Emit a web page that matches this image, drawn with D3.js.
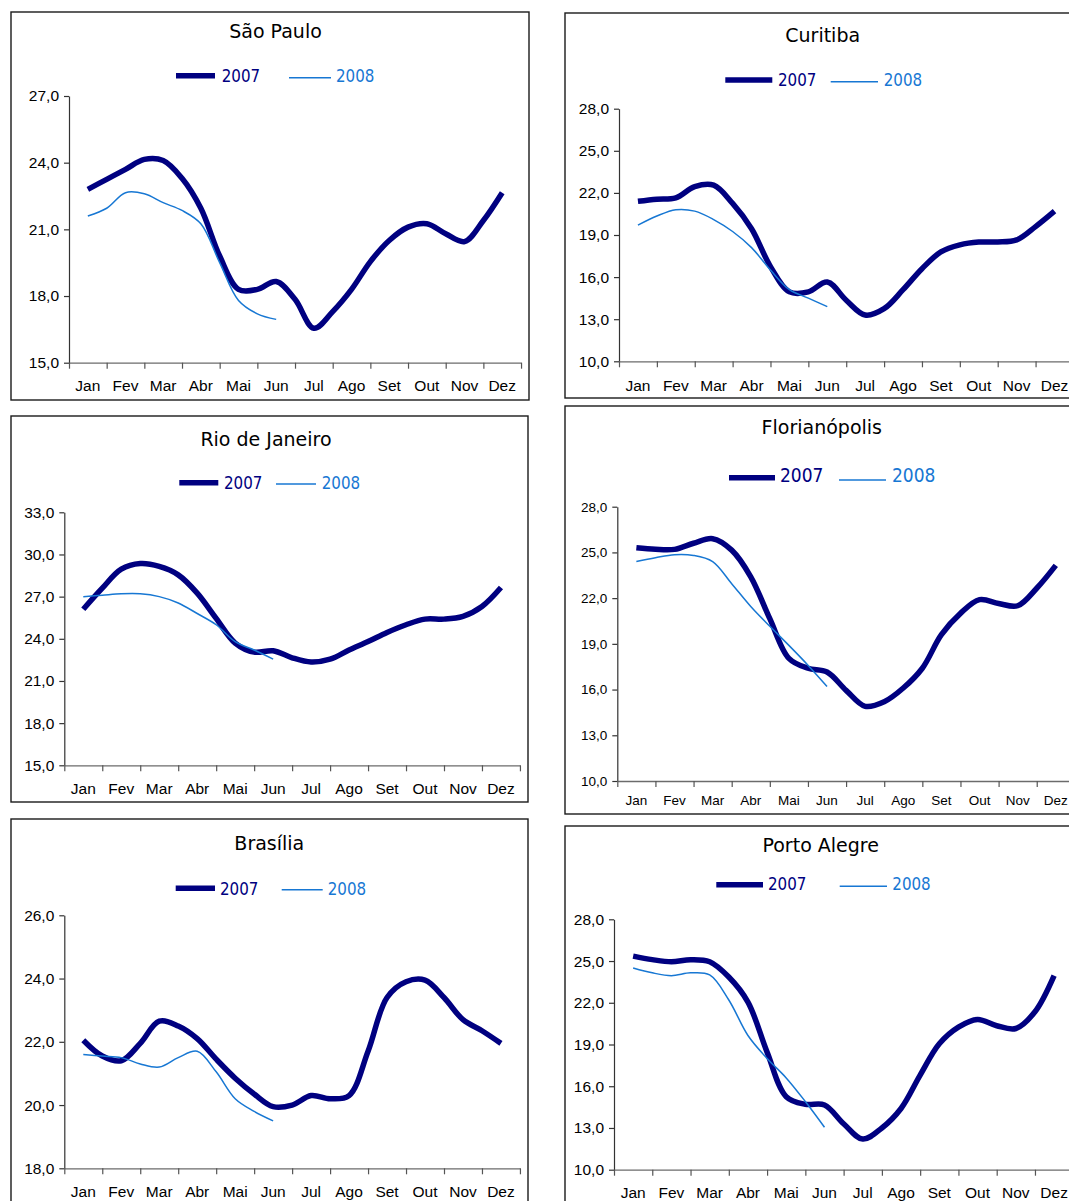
<!DOCTYPE html>
<html>
<head>
<meta charset="utf-8">
<script src="https://cdn.jsdelivr.net/npm/d3@7"></script>
<style>
  body { margin: 0; background: #fff; }
  svg { display: block; }
</style>
</head>
<body>
<svg id="chart" width="1069" height="1201"></svg>
<script>
// Month labels and the half-month sampling positions (0 = Jan, 11 = Dez)
const months = ["Jan", "Fev", "Mar", "Abr", "Mai", "Jun", "Jul", "Ago", "Set", "Out", "Nov", "Dez"];
const halfMonths = [0, 0.5, 1, 1.5, 2, 2.5, 3, 3.5, 4, 4.5, 5, 5.5, 6, 6.5, 7, 7.5, 8, 8.5, 9, 9.5, 10, 10.5, 11];
const seriesNames = ["2007", "2008"];

// São Paulo
const saoPaulo2007 = [22.8, 23.25, 23.7, 24.15, 24.1, 23.3, 21.95, 19.8, 18.3, 18.3, 18.65, 17.85, 16.55, 17.3, 18.3, 19.55, 20.5, 21.1, 21.25, 20.8, 20.45, 21.4, 22.65];
const saoPaulo2008 = [21.6, 21.95, 22.65, 22.6, 22.2, 21.85, 21.25, 19.5, 17.8, 17.2, 16.95];
const saoPauloTicks = [15, 18, 21, 24, 27];

// Curitiba
const curitiba2007 = [21.4, 21.55, 21.65, 22.45, 22.55, 21.25, 19.45, 16.75, 14.95, 14.95, 15.65, 14.35, 13.3, 13.75, 15.1, 16.6, 17.8, 18.3, 18.5, 18.5, 18.65, 19.6, 20.7];
const curitiba2008 = [19.7, 20.35, 20.8, 20.7, 20.1, 19.25, 18.1, 16.5, 15.1, 14.5, 13.9];
const curitibaTicks = [10, 13, 16, 19, 22, 25, 28];

// Rio de Janeiro
const rio2007 = [26.1, 27.6, 28.95, 29.35, 29.15, 28.55, 27.25, 25.45, 23.7, 23.05, 23.15, 22.65, 22.35, 22.55, 23.2, 23.8, 24.45, 25.0, 25.4, 25.4, 25.6, 26.3, 27.65];
const rio2008 = [27.0, 27.1, 27.2, 27.2, 27.0, 26.55, 25.8, 25.0, 23.8, 23.2, 22.55];
const rioTicks = [15, 18, 21, 24, 27, 30, 33];

// Florianópolis
const floripa2007 = [25.3, 25.2, 25.2, 25.6, 25.9, 25.15, 23.4, 20.65, 18.05, 17.4, 17.15, 15.95, 14.9, 15.2, 16.1, 17.4, 19.6, 21.0, 21.9, 21.65, 21.5, 22.65, 24.15];
const floripa2008 = [24.4, 24.65, 24.85, 24.8, 24.4, 22.95, 21.45, 20.15, 18.9, 17.6, 16.2];
const floripaTicks = [10, 13, 16, 19, 22, 25, 28];

// Brasília
const brasilia2007 = [22.05, 21.55, 21.4, 21.95, 22.65, 22.5, 22.1, 21.45, 20.85, 20.35, 19.95, 20.0, 20.3, 20.2, 20.3, 21.7, 23.4, 23.9, 23.95, 23.4, 22.7, 22.35, 21.95];
const brasilia2008 = [21.6, 21.55, 21.5, 21.3, 21.2, 21.5, 21.7, 21.05, 20.2, 19.8, 19.5];
const brasiliaTicks = [18, 20, 22, 24, 26];

// Porto Alegre
const portoAlegre2007 = [25.35, 25.1, 24.95, 25.1, 24.95, 23.85, 22.05, 18.45, 15.25, 14.7, 14.65, 13.3, 12.2, 13.0, 14.4, 16.8, 19.05, 20.25, 20.8, 20.35, 20.15, 21.35, 23.95];
const portoAlegre2008 = [24.5, 24.15, 23.95, 24.15, 24.0, 22.2, 19.65, 18.0, 16.6, 14.9, 13.05];
const portoAlegreTicks = [10, 13, 16, 19, 22, 25, 28];

const NAVY = "#000080";
const SKY = "#1777d3";

// Layout of each framed panel
const panels = [
  { title: "São Paulo", a: saoPaulo2007, b: saoPaulo2008, ticks: saoPauloTicks,
    box: [11, 12, 518, 388], tx: 275.5, ty: 38,
    leg: { thick: [176, 215, 75.7], t07: 221.7, thin: [289, 331, 77.7], t08: 336, base: 81.7, size: 16.8 },
    plot: { x0: 69, band: 37.67, yTop: 96, yBot: 362.7, labelY: 390.7, font: 15.5 } },
  { title: "Curitiba", a: curitiba2007, b: curitiba2008, ticks: curitibaTicks,
    box: [565, 13, 600, 385], tx: 822.7, ty: 42.3,
    leg: { thick: [725.3, 772.3, 80], t07: 778, thin: [830.7, 878, 81.7], t08: 883.7, base: 86, size: 16.8 },
    plot: { x0: 619, band: 37.87, yTop: 108.7, yBot: 361.3, labelY: 390.7, font: 15.5 } },
  { title: "Rio de Janeiro", a: rio2007, b: rio2008, ticks: rioTicks,
    box: [11, 416, 517, 386], tx: 266, ty: 446,
    leg: { thick: [179.3, 218.3, 482.7], t07: 224, thin: [276, 316, 484], t08: 321.7, base: 489, size: 16.8 },
    plot: { x0: 64.3, band: 37.97, yTop: 512.3, yBot: 765.3, labelY: 794.3, font: 15.5 } },
  { title: "Florianópolis", a: floripa2007, b: floripa2008, ticks: floripaTicks,
    box: [565, 406, 600, 408], tx: 821.8, ty: 434.3,
    leg: { thick: [729, 775, 477.7], t07: 780, thin: [839, 886, 480], t08: 892, base: 481.7, size: 19 },
    plot: { x0: 617.3, band: 38.13, yTop: 506.7, yBot: 781, labelY: 805, font: 13.5 } },
  { title: "Brasília", a: brasilia2007, b: brasilia2008, ticks: brasiliaTicks,
    box: [11, 819, 517, 400], tx: 269.3, ty: 849.7,
    leg: { thick: [175.7, 215, 888.3], t07: 220, thin: [281.7, 322.7, 889.7], t08: 327.7, base: 894.7, size: 16.8 },
    plot: { x0: 64.3, band: 37.97, yTop: 915.3, yBot: 1168.3, labelY: 1197.3, font: 15.5 } },
  { title: "Porto Alegre", a: portoAlegre2007, b: portoAlegre2008, ticks: portoAlegreTicks,
    box: [565, 826, 600, 400], tx: 820.7, ty: 852,
    leg: { thick: [716.3, 763, 884.7], t07: 768, thin: [839.7, 887, 886.3], t08: 892.3, base: 890.3, size: 16.8 },
    plot: { x0: 614, band: 38.27, yTop: 919.3, yBot: 1169.7, labelY: 1198, font: 15.5 } }
];

const svg = d3.select("#chart");
const fmt = d => d.toFixed(1).replace(".", ",");

panels.forEach(p => {
  const g = svg.append("g");
  const [bx, by, bw, bh] = p.box;
  g.append("rect")
    .attr("x", bx).attr("y", by).attr("width", bw).attr("height", bh)
    .attr("fill", "#fff").attr("stroke", "#1a1a1a").attr("stroke-width", 1.4);

  g.append("text")
    .attr("x", p.tx).attr("y", p.ty)
    .attr("text-anchor", "middle")
    .attr("font-family", "DejaVu Sans, sans-serif")
    .attr("font-size", 19).attr("fill", "#000")
    .text(p.title);

  // Legend
  const L = p.leg;
  g.append("line").attr("x1", L.thick[0]).attr("x2", L.thick[1]).attr("y1", L.thick[2]).attr("y2", L.thick[2])
    .attr("stroke", NAVY).attr("stroke-width", 5.5);
  g.append("text").attr("x", L.t07).attr("y", L.base)
    .attr("font-family", "DejaVu Sans Condensed, DejaVu Sans, sans-serif").attr("font-stretch", "condensed")
    .attr("font-size", L.size).attr("fill", NAVY).text(seriesNames[0]);
  g.append("line").attr("x1", L.thin[0]).attr("x2", L.thin[1]).attr("y1", L.thin[2]).attr("y2", L.thin[2])
    .attr("stroke", SKY).attr("stroke-width", 1.5);
  g.append("text").attr("x", L.t08).attr("y", L.base)
    .attr("font-family", "DejaVu Sans Condensed, DejaVu Sans, sans-serif").attr("font-stretch", "condensed")
    .attr("font-size", L.size).attr("fill", SKY).text(seriesNames[1]);

  // Scales
  const P = p.plot;
  const x1 = P.x0 + 12 * P.band;
  const x = d3.scaleLinear().domain([-0.5, 11.5]).range([P.x0, x1]);
  const band = d3.scaleBand().domain(months).range([P.x0, x1]);
  const y = d3.scaleLinear().domain([d3.min(p.ticks), d3.max(p.ticks)]).range([P.yBot, P.yTop]);

  // Y axis
  const yAxis = g.append("g").attr("transform", `translate(${P.x0},0)`)
    .call(d3.axisLeft(y).tickValues(p.ticks).tickFormat(fmt).tickSize(5).tickPadding(5).tickSizeOuter(0));
  yAxis.select(".domain").attr("stroke", "#333").attr("stroke-width", 1.2);
  yAxis.selectAll(".tick line").attr("stroke", "#333").attr("stroke-width", 1.2);
  yAxis.selectAll("text").attr("font-family", "Liberation Sans, Arial, sans-serif")
    .attr("font-size", P.font).attr("fill", "#000");

  // X axis: ticks on month boundaries, labels centred in each month
  const bounds = d3.range(13).map(i => i - 0.5);
  const xAxis = g.append("g").attr("transform", `translate(0,${P.yBot})`)
    .call(d3.axisBottom(x).tickValues(bounds).tickFormat("").tickSize(6).tickSizeOuter(0));
  xAxis.select(".domain").attr("stroke", "#6b6b6b").attr("stroke-width", 1.3);
  xAxis.selectAll(".tick line").attr("stroke", "#555").attr("stroke-width", 1.2);

  g.append("g").selectAll("text").data(months).join("text")
    .attr("x", d => band(d) + band.bandwidth() / 2)
    .attr("y", P.labelY)
    .attr("text-anchor", "middle")
    .attr("font-family", "Liberation Sans, Arial, sans-serif")
    .attr("font-size", P.font).attr("fill", "#000")
    .text(d => d);

  // Series
  const line = d3.line().x(d => x(d[0])).y(d => y(d[1])).curve(d3.curveCatmullRom.alpha(0.5));
  g.append("path").datum(p.a.map((v, i) => [halfMonths[i], v]))
    .attr("d", line).attr("fill", "none").attr("stroke", NAVY)
    .attr("stroke-width", 5.5).attr("stroke-linejoin", "round");
  g.append("path").datum(p.b.map((v, i) => [halfMonths[i], v]))
    .attr("d", line).attr("fill", "none").attr("stroke", SKY)
    .attr("stroke-width", 1.5).attr("stroke-linejoin", "round");
});
</script>
</body>
</html>
